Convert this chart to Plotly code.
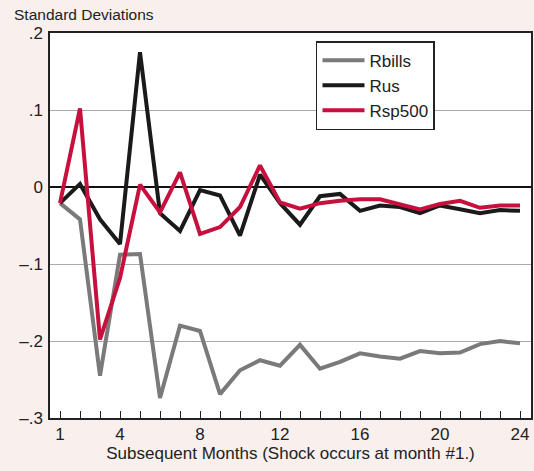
import plotly.graph_objects as go

months = list(range(1, 25))

rbills = [-0.021, -0.042, -0.245, -0.088, -0.087, -0.274, -0.180, -0.187, -0.269, -0.238,
          -0.225, -0.232, -0.205, -0.236, -0.227, -0.216, -0.220, -0.223, -0.213, -0.216,
          -0.215, -0.204, -0.200, -0.203]
rus = [-0.021, 0.004, -0.042, -0.074, 0.175, -0.034, -0.057, -0.004, -0.011, -0.063,
       0.016, -0.021, -0.049, -0.012, -0.009, -0.031, -0.024, -0.026, -0.034, -0.024,
       -0.029, -0.034, -0.030, -0.031]
rsp500 = [-0.021, 0.102, -0.198, -0.118, 0.003, -0.033, 0.019, -0.061, -0.052, -0.026,
          0.028, -0.020, -0.028, -0.021, -0.018, -0.016, -0.016, -0.022, -0.029, -0.022,
          -0.018, -0.027, -0.024, -0.024]

x_labels = {1: "1", 4: "4", 8: "8", 12: "12", 16: "16", 20: "20", 24: "24"}
y_tickvals = [0.2, 0.1, 0, -0.1, -0.2, -0.3]
y_ticktext = [".2", ".1", "0", "\u2013.1", "\u2013.2", "\u2013.3"]

series = [("Rbills", rbills, "#7a7a7a"), ("Rus", rus, "#1a1a1a"), ("Rsp500", rsp500, "#c8103e")]

fig = go.Figure()
for name, vals, color in series:
    fig.add_trace(go.Scatter(x=months, y=vals, mode="lines", name=name,
                             line=dict(color=color, width=4)))

font_family = "Liberation Sans, Arial, sans-serif"
fig.update_layout(
    width=534, height=471,
    margin=dict(l=50, r=3, t=33, b=53, autoexpand=False),
    paper_bgcolor="#f9efec",
    plot_bgcolor="#ffffff",
    font=dict(family=font_family, size=15, color="#222222"),
    showlegend=True,
    legend=dict(x=0.553, y=0.979, xanchor="left", yanchor="top",
                bgcolor="#ffffff", bordercolor="#222222", borderwidth=1.5,
                font=dict(size=17, color="#222222"), tracegroupgap=0,
                itemwidth=42),
    xaxis=dict(range=[0.5, 24.55], tickmode="array", tickvals=months,
               ticktext=[x_labels.get(m, "") for m in months],
               ticks="inside", ticklen=7, tickwidth=1.2, tickcolor="#222222",
               showgrid=False, zeroline=False, automargin=False,
               showline=True, linecolor="#222222", linewidth=1.5, mirror=True,
               tickfont=dict(size=17),
               title=dict(text="Subsequent Months (Shock occurs at month #1.)",
                          font=dict(size=17), standoff=2)),
    yaxis=dict(range=[-0.3, 0.2], tickmode="array", tickvals=y_tickvals, ticktext=y_ticktext,
               ticks="", showgrid=True, gridcolor="#aaaaaa", gridwidth=1.2,
               zeroline=True, zerolinecolor="#111111", zerolinewidth=1.5, automargin=False,
               showline=True, linecolor="#222222", linewidth=1.5, mirror=True,
               tickfont=dict(size=17), ticklabelstandoff=2),
    annotations=[dict(text="Standard Deviations", xref="paper", yref="paper",
                      x=-0.079, y=1.022, xanchor="left", yanchor="bottom",
                      showarrow=False, font=dict(size=15.5, color="#222222"))],
)

fig.write_html("out.html", config={"displayModeBar": False},
               post_script="document.body.style.margin='0';document.body.style.background='#f9efec';")
